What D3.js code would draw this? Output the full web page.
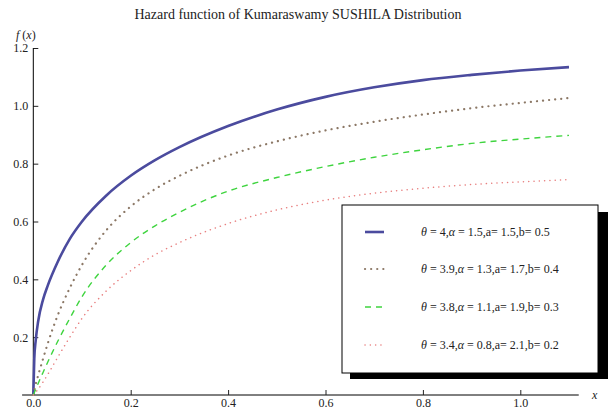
<!DOCTYPE html>
<html>
<head>
<meta charset="utf-8">
<script src="https://cdn.jsdelivr.net/npm/d3@7"></script>
<style>
  body { margin: 0; background: #fff; }
  text { font-family: "Liberation Serif", "DejaVu Serif", serif; fill: #222; }
</style>
</head>
<body>
<svg id="chart" width="609" height="411"></svg>
<script>
const title = "Hazard function of Kumaraswamy SUSHILA Distribution"

// x grid the curves were read at
const xs = [0, 0.002, 0.005, 0.01, 0.02, 0.03, 0.05, 0.075, 0.1, 0.15, 0.2, 0.25, 0.3, 0.4, 0.5, 0.6, 0.7, 0.8, 0.9, 1.0, 1.1]

const hazard1 = [0, 0.125, 0.19, 0.255, 0.33, 0.38, 0.46, 0.54, 0.60, 0.69, 0.758, 0.812, 0.857, 0.93, 0.987, 1.031, 1.064, 1.089, 1.107, 1.122, 1.134]
const hazard2 = [0, 0.018, 0.038, 0.068, 0.125, 0.18, 0.275, 0.37, 0.45, 0.57, 0.652, 0.712, 0.758, 0.828, 0.877, 0.915, 0.945, 0.97, 0.992, 1.01, 1.027]
const hazard3 = [0, 0.008, 0.02, 0.04, 0.078, 0.115, 0.185, 0.265, 0.34, 0.45, 0.527, 0.585, 0.632, 0.705, 0.752, 0.79, 0.822, 0.848, 0.87, 0.885, 0.898]
const hazard4 = [0, 0.004, 0.01, 0.02, 0.045, 0.072, 0.13, 0.20, 0.265, 0.36, 0.43, 0.485, 0.527, 0.593, 0.64, 0.674, 0.698, 0.715, 0.728, 0.737, 0.745]

const legendLabels = [
    ["θ", " = 4,", "α", " = 1.5,a= 1.5,b= 0.5"],
    ["θ", " = 3.9,", "α", " = 1.3,a= 1.7,b= 0.4"],
    ["θ", " = 3.8,", "α", " = 1.1,a= 1.9,b= 0.3"],
    ["θ", " = 3.4,", "α", " = 0.8,a= 2.1,b= 0.2"]
]

const xTicks = [0, 0.2, 0.4, 0.6, 0.8, 1.0]
const yTicks = [0.2, 0.4, 0.6, 0.8, 1.0, 1.2]

const styles = [
    {color: "#4b4b9e", width: 2.6, dash: null, cap: "butt"},
    {color: "#8c7866", width: 2.2, dash: "0.1,6", cap: "round"},
    {color: "#3fd43f", width: 1.4, dash: "6,5", cap: "butt"},
    {color: "#e88080", width: 1.5, dash: "0.1,5.2", cap: "round"}
]

const svg = d3.select("#chart")

const x = d3.scaleLinear().domain([0, 1]).range([33.3, 520.3])
const y = d3.scaleLinear().domain([0, 1.2]).range([395, 48])

// title
svg.append("text")
    .attr("x", 298).attr("y", 19)
    .attr("text-anchor", "middle")
    .style("font-size", "14px")
    .text(title)

// x axis
const xAxisG = svg.append("g").attr("transform", `translate(0, ${y(0)})`)
xAxisG.append("line")
    .attr("x1", x(-0.023)).attr("x2", x(1.12))
    .attr("stroke", "#000").attr("stroke-width", 1)
xAxisG.call(d3.axisBottom(x).tickValues(d3.range(0.05, 1.11, 0.05)).tickSize(-3).tickFormat(""))
xAxisG.call(d3.axisBottom(x).tickValues(xTicks).tickSize(-5).tickPadding(3).tickFormat(d3.format(".1f")))
xAxisG.selectAll(".domain").remove()
xAxisG.selectAll("text").style("font-size", "12px").style("font-family", "Liberation Serif, serif").attr("fill", "#222")
xAxisG.selectAll(".tick line").attr("stroke", "#222")

svg.append("text")
    .attr("x", 592).attr("y", 399)
    .style("font-size", "12px").style("font-style", "italic")
    .text("x")

// y axis
const yAxisG = svg.append("g").attr("transform", `translate(${x(0)}, 0)`)
yAxisG.call(d3.axisLeft(y).tickValues(d3.range(0.05, 1.201, 0.05)).tickSize(-3).tickFormat(""))
yAxisG.call(d3.axisLeft(y).tickValues(yTicks).tickSize(-5).tickPadding(5).tickFormat(d3.format(".1f")))
yAxisG.selectAll(".domain").remove()
yAxisG.append("line")
    .attr("y1", y(0)).attr("y2", y(1.2))
    .attr("stroke", "#000").attr("stroke-width", 1)
yAxisG.selectAll("text").style("font-size", "12px").style("font-family", "Liberation Serif, serif").attr("fill", "#222")
yAxisG.selectAll(".tick line").attr("stroke", "#222")

const fx = svg.append("text").attr("x", 16).attr("y", 39).style("font-size", "12px")
fx.append("tspan").style("font-style", "italic").text("f")
fx.append("tspan").text(" (")
fx.append("tspan").style("font-style", "italic").text("x")
fx.append("tspan").text(")")

// curves
const series = [hazard1, hazard2, hazard3, hazard4]
const line = d3.line()
    .x((d, i) => x(xs[i]))
    .y(d => y(d))
    .curve(d3.curveMonotoneX)

svg.append("g").selectAll("path")
    .data(series)
    .join("path")
    .attr("d", d => line(d))
    .attr("fill", "none")
    .attr("stroke", (d, i) => styles[i].color)
    .attr("stroke-width", (d, i) => styles[i].width)
    .attr("stroke-dasharray", (d, i) => styles[i].dash)
    .attr("stroke-linecap", (d, i) => styles[i].cap)

// legend
const legend = svg.append("g")
legend.append("rect")
    .attr("x", 350).attr("y", 212).attr("width", 258).attr("height", 167)
    .attr("fill", "#000")
legend.append("rect")
    .attr("x", 342).attr("y", 205).attr("width", 256).attr("height", 168)
    .attr("fill", "#fff").attr("stroke", "#000").attr("stroke-width", 1)

const rowY = [232, 269, 307, 345]
const rows = legend.selectAll("g.row")
    .data(legendLabels)
    .join("g")
    .attr("class", "row")
    .attr("transform", (d, i) => `translate(0, ${rowY[i]})`)

rows.append("line")
    .attr("x1", 365).attr("x2", 384)
    .attr("stroke", (d, i) => styles[i].color)
    .attr("stroke-width", (d, i) => styles[i].width)
    .attr("stroke-dasharray", (d, i) => styles[i].dash)
    .attr("stroke-linecap", (d, i) => styles[i].cap)

const labels = rows.append("text")
    .attr("x", 421).attr("y", 4)
    .style("font-size", "12px")
labels.each(function(d) {
    const t = d3.select(this)
    d.forEach((part, j) => {
        t.append("tspan")
            .style("font-style", j % 2 === 0 ? "italic" : "normal")
            .text(part)
    })
})
</script>
</body>
</html>
